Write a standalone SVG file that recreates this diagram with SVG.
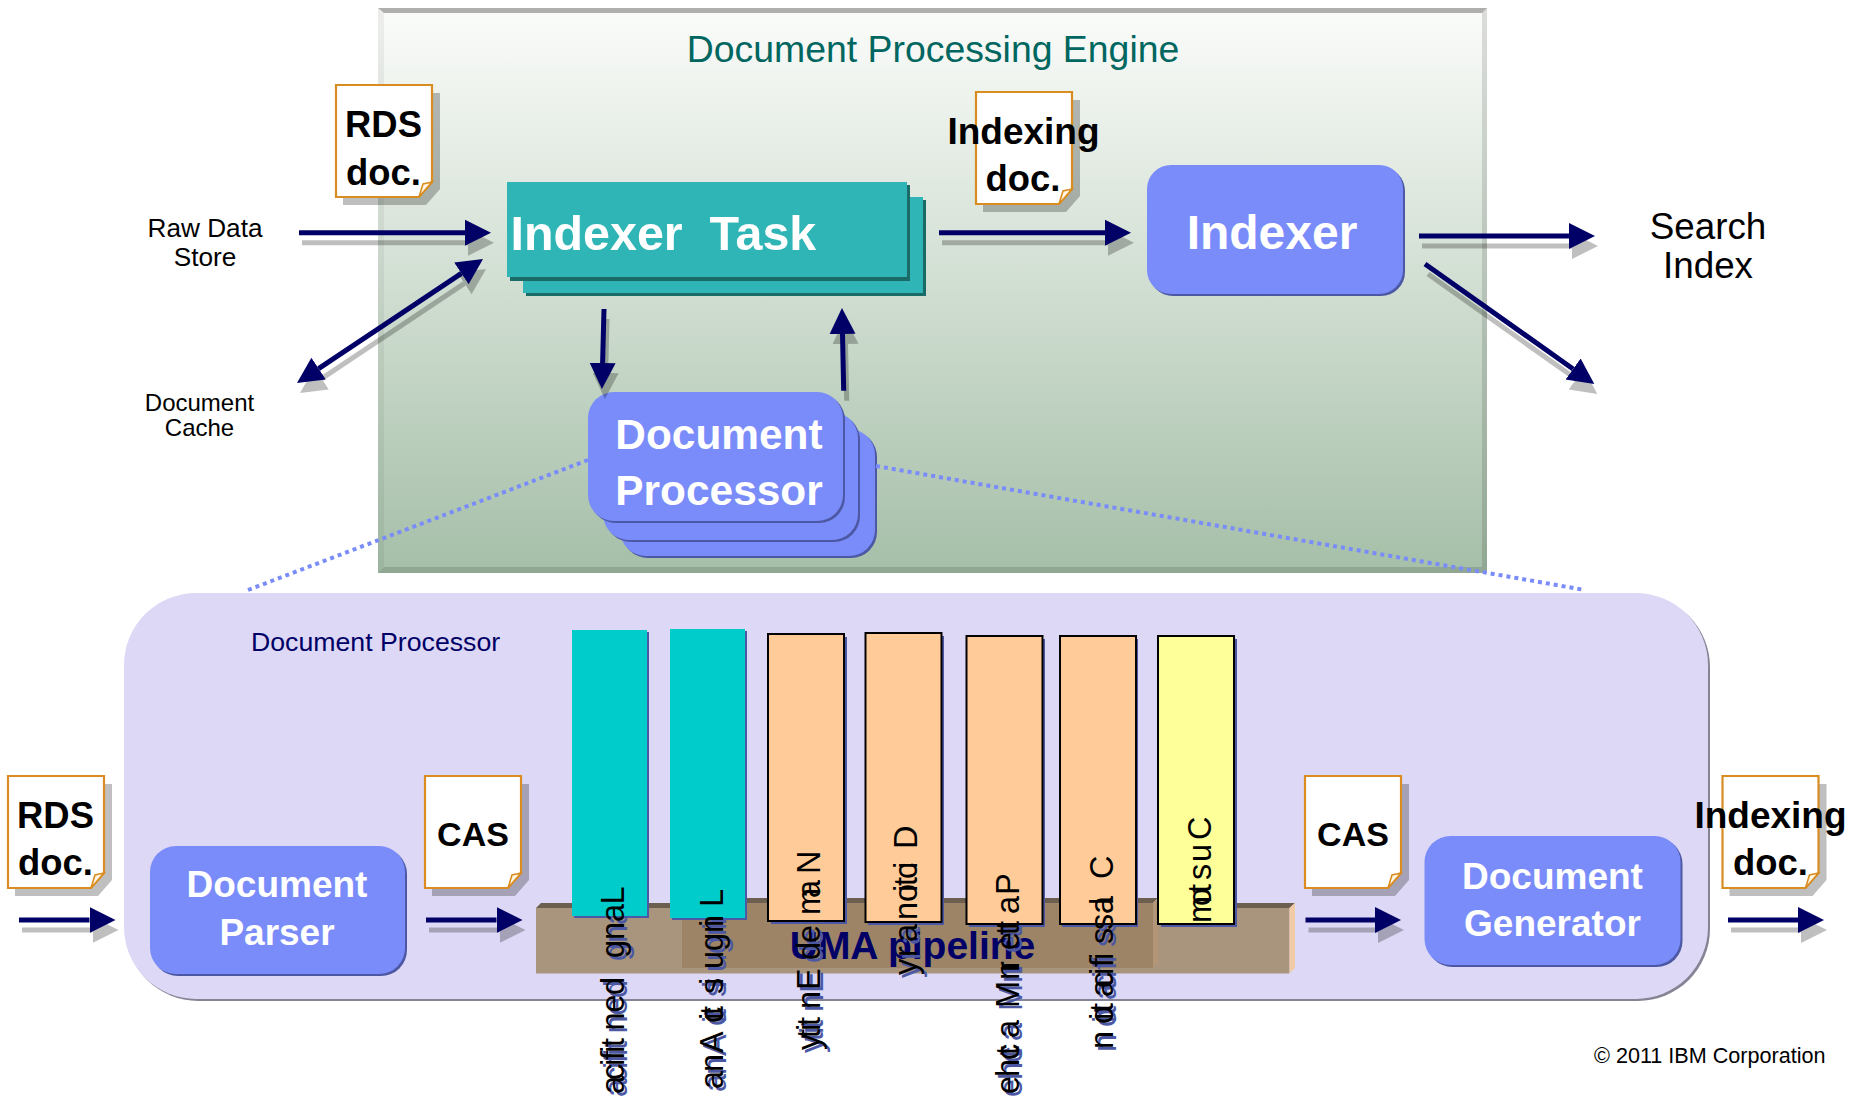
<svg xmlns="http://www.w3.org/2000/svg" xmlns:xlink="http://www.w3.org/1999/xlink" width="1858" height="1100" viewBox="0 0 1858 1100">
<style>
text{font-family:"Liberation Sans",Arial,sans-serif}
.b{font-weight:bold}
.m{text-anchor:middle}
.w{fill:#fff}
.blue{fill:#7a8cfa}
.blues{fill:#4c58a4}
.teal{fill:#2fb5b5}
.teals{fill:#1a6a68}
.lbl{font-size:36.4px;font-weight:bold;text-anchor:middle;fill:#000}
.pl{font-size:37px;font-weight:bold;text-anchor:middle;fill:#fff}
.rot{font-size:32.5px}
.bs{fill:#4c58a4}
.navy{stroke:#000066;stroke-width:5;fill:none}
.gray{stroke:#000;stroke-opacity:.25;stroke-width:5;fill:none}
.dot{stroke:#7a8cfa;stroke-width:4;stroke-dasharray:4 4;fill:none}
.peach{fill:#ffcc99;stroke:#000;stroke-width:2}
.yel{fill:#ffff99;stroke:#000;stroke-width:2}
.tl{fill:#00cccc}
</style>
<defs>
<linearGradient id="pg" x1="0" y1="0" x2="0" y2="1"><stop offset="0" stop-color="#fbfcfa"/><stop offset="1" stop-color="#a5bfa8"/></linearGradient>
<marker id="hn" markerUnits="userSpaceOnUse" markerWidth="28" markerHeight="28" refX="0" refY="14" orient="auto-start-reverse"><path d="M0,1 L26,14 L0,27 Z" fill="#000066"/></marker>
<marker id="hg" markerUnits="userSpaceOnUse" markerWidth="28" markerHeight="28" refX="0" refY="14" orient="auto-start-reverse"><path d="M0,1 L26,14 L0,27 Z" fill="#000" fill-opacity=".25"/></marker>
<g id="note">
<path d="M7,8 H104 V104 L90,120 H7 Z" fill="#000" fill-opacity=".25"/>
<path d="M0,0 H96 V97 L83,112 H0 Z" fill="#fff" stroke="#d98c20" stroke-width="2.2"/>
<path d="M96,97 L87,99 L83,112 Z" fill="#fff6e4" stroke="#d98c20" stroke-width="1.6"/>
</g>
</defs>
<rect width="1858" height="1100" fill="#fff"/>
<g id="engine">
<rect x="378" y="8" width="1109" height="565" fill="url(#pg)"/>
<path d="M378,8 H1487 L1482,13 H384 Z" fill="#000" fill-opacity=".3"/>
<path d="M378,8 L384,13 V567 L378,573 Z" fill="#000" fill-opacity=".05"/>
<path d="M1487,8 L1482,13 V567 L1487,573 Z" fill="#000" fill-opacity=".12"/>
<path d="M378,573 L384,567 H1482 L1487,573 Z" fill="#000" fill-opacity=".12"/>
<text x="933" y="62" class="m" font-size="37.4" fill="#006660">Document Processing Engine</text>
</g>
<g id="rds-doc-top"><use xlink:href="#note" href="#note" x="336" y="85"/><text x="383.5" y="137" class="lbl">RDS</text><text x="383.5" y="185" class="lbl">doc.</text></g>
<g id="indexer-task">
<rect x="526" y="200" width="400" height="96" class="teals"/><rect x="523" y="197" width="400" height="96" class="teal"/>
<rect x="510" y="185" width="400" height="96" class="teals"/><rect x="507" y="182" width="400" height="95" class="teal"/>
<text x="510.5" y="250" font-size="48.4" class="b w" xml:space="preserve">Indexer  Task</text>
</g>
<g id="indexing-doc-top"><use xlink:href="#note" href="#note" x="976" y="92"/><text x="1023.5" y="144" class="lbl" style="font-size:37px">Indexing</text><text x="1023" y="191" class="lbl">doc.</text></g>
<g id="indexer">
<rect x="1149" y="167" width="256" height="129" rx="24" class="blues"/><rect x="1147" y="165" width="256" height="129" rx="24" class="blue"/>
<text x="1272" y="249" font-size="48" class="b w m">Indexer</text>
</g>
<g id="raw-data"><text x="205" y="237" font-size="26.2" class="m">Raw Data</text><text x="205" y="266" font-size="26.2" class="m">Store</text></g>
<g id="doc-cache"><text x="199.5" y="411" font-size="24" class="m">Document</text><text x="199.5" y="436" font-size="24" class="m">Cache</text></g>
<g id="search-index"><text x="1708" y="239" font-size="36.8" class="m">Search</text><text x="1708" y="278" font-size="36.8" class="m">Index</text></g>
<g id="document-processor-stack">
<rect x="622" y="431" width="255" height="127" rx="26" class="blues"/><rect x="620" y="429" width="255" height="127" rx="26" class="blue"/>
<rect x="605" y="414" width="255" height="128" rx="26" class="blues"/><rect x="603" y="412" width="255" height="128" rx="26" class="blue"/>
<rect x="590" y="394" width="255" height="129" rx="26" class="blues"/><rect x="588" y="392" width="255" height="129" rx="26" class="blue"/>
<text x="719" y="449" font-size="42.4" class="b w m">Document</text><text x="719" y="505" font-size="42.4" class="b w m">Processor</text>
</g>
<g id="document-processor-panel">
<rect x="126" y="595" width="1584" height="406" rx="72" fill="#858494"/>
<rect x="124" y="593" width="1584" height="406" rx="72" fill="#dcd8f5"/>
<text x="251" y="651" font-size="26.7" fill="#000066">Document Processor</text>
</g>
<g id="uima-pipeline">
<path d="M536,908 L541,903 H1295 L1289.5,908 Z" fill="#6d5f50"/>
<rect x="536" y="908" width="753.5" height="65.5" fill="#a9957e"/>
<path d="M1289.5,908 L1295,903 V968 L1289.5,973.5 Z" fill="#f0cba6"/>
<path d="M682,903 L687,898 H1158 L1153,903 Z" fill="#6d5f50"/>
<rect x="682" y="903" width="471" height="65" fill="#9e8467"/>
<path d="M1153,903 L1158,898 V963 L1153,968 Z" fill="#b39678"/>
<text x="912.5" y="959" font-size="39" class="b m" fill="#000066">UMA pipeline</text>
</g>
<g id="annotator-label-shadows" class="bs rot">
<use xlink:href="#t1" href="#t1" x="3" y="3"/><use xlink:href="#t2" href="#t2" x="3" y="3"/><use xlink:href="#t3" href="#t3" x="3" y="3"/><use xlink:href="#t4" href="#t4" x="3" y="3"/><use xlink:href="#t5" href="#t5" x="3" y="3"/><use xlink:href="#t6" href="#t6" x="3" y="3"/><use xlink:href="#t7" href="#t7" x="3" y="3"/>
</g>
<g id="annotators">
<g id="a1"><rect x="574" y="632" width="75" height="286" class="bs"/><rect x="572" y="630" width="75" height="286" class="tl"/></g>
<g id="a2"><rect x="672" y="631" width="75" height="289" class="bs"/><rect x="670" y="629" width="75" height="289" class="tl"/></g>
<g id="a3"><rect x="771" y="637" width="76" height="287" class="bs"/><rect x="768" y="634" width="76" height="287" class="peach"/></g>
<g id="a4"><rect x="868" y="636" width="76" height="289" class="bs"/><rect x="865.5" y="633" width="76" height="289" class="peach"/></g>
<g id="a5"><rect x="969" y="639" width="76" height="288" class="bs"/><rect x="966.5" y="636" width="76" height="288" class="peach"/></g>
<g id="a6"><rect x="1062" y="639" width="76" height="288" class="bs"/><rect x="1060" y="636" width="76" height="288" class="peach"/></g>
<g id="a7"><rect x="1161" y="639" width="76" height="288" class="bs"/><rect x="1158" y="636" width="76" height="288" class="yel"/></g>
</g>
<g id="annotator-labels" class="rot" fill="#000">
<text id="t1" transform="rotate(-90)" y="624" x="-904.4 -922 -940 -958 -970 -995 -1012.6 -1030.4 -1047 -1053 -1060 -1066 -1080 -1094">Lang dentifica</text>
<text id="t2" transform="rotate(-90)" y="723" x="-907 -927 -933 -951 -969 -985 -994 -1015 -1020 -1023 -1030 -1053 -1072 -1089">Linguistic Ana</text>
<text id="t3" transform="rotate(-90)" y="820" x="-874 -898 -915 -943 -960 -965 -990 -1009 -1026 -1031 -1038 -1050">Named Entity</text>
<text id="t4" transform="rotate(-90)" y="917" x="-849 -869 -879 -886 -892 -902 -920 -942 -957 -975">Dictionary</text>
<text id="t5" transform="rotate(-90)" y="1019" x="-895 -914 -930 -935 -950 -972 -980 -982 -1008 -1038 -1055 -1060 -1077 -1094">Pattern Matche</text>
<text id="t6" transform="rotate(-90)" y="1113" x="-879 -905 -914 -930 -944 -960 -967 -975 -988 -997 -1012 -1020 -1024 -1049">Classification</text>
<text id="t7" transform="rotate(-90)" y="1211" x="-840 -862 -880 -893 -906 -923">Custom</text>
</g>
<g id="document-parser">
<rect x="152" y="848" width="255" height="128" rx="26" class="blues"/><rect x="150" y="846" width="255" height="128" rx="26" class="blue"/>
<text x="277" y="897" class="pl">Document</text><text x="277" y="945" class="pl">Parser</text>
</g>
<g id="document-generator">
<rect x="1426.5" y="838" width="256" height="129" rx="26" class="blues"/><rect x="1424.5" y="836" width="256" height="129" rx="26" class="blue"/>
<text x="1552.5" y="889" class="pl">Document</text><text x="1552.5" y="936" class="pl">Generator</text>
</g>
<g id="rds-doc-bottom"><use xlink:href="#note" href="#note" x="8" y="776"/><text x="55.5" y="828" class="lbl">RDS</text><text x="55.5" y="875" class="lbl">doc.</text></g>
<g id="cas-1"><use xlink:href="#note" href="#note" x="425" y="776"/><text x="473" y="846" class="lbl" style="font-size:34px">CAS</text></g>
<g id="cas-2"><use xlink:href="#note" href="#note" x="1305" y="776"/><text x="1353" y="846" class="lbl" style="font-size:34px">CAS</text></g>
<g id="indexing-doc-bottom"><use xlink:href="#note" href="#note" x="1722.5" y="776"/><text x="1770.5" y="828" class="lbl" style="font-size:37px">Indexing</text><text x="1770.5" y="875" class="lbl">doc.</text></g>
<g id="copyright"><text x="1594" y="1063" font-size="21.6">© 2011 IBM Corporation</text></g>
<g id="connectors">
<line class="dot" x1="588" y1="460" x2="248" y2="590"/>
<line class="dot" x1="876" y1="466" x2="1585" y2="590"/>
<g transform="translate(3,10)">
<line class="gray" marker-end="url(#hg)" x1="299" y1="232.7" x2="465" y2="232.7"/>
<line class="gray" marker-start="url(#hg)" marker-end="url(#hg)" x1="318.6" y1="368.6" x2="461.4" y2="273.4"/>
<line class="gray" marker-end="url(#hg)" x1="939" y1="232.7" x2="1105" y2="232.7"/>
<line class="gray" marker-end="url(#hg)" x1="1419" y1="236" x2="1569" y2="236"/>
<line class="gray" marker-end="url(#hg)" x1="1425" y1="264" x2="1573.1" y2="369"/>
<line class="gray" marker-end="url(#hg)" x1="604" y1="309" x2="602.6" y2="363"/>
<line class="gray" marker-end="url(#hg)" x1="843.7" y1="390.7" x2="842.5" y2="334"/>
<line class="gray" marker-end="url(#hg)" x1="19" y1="920" x2="89.5" y2="920"/>
<line class="gray" marker-end="url(#hg)" x1="426" y1="920" x2="496.5" y2="920"/>
<line class="gray" marker-end="url(#hg)" x1="1305.5" y1="920" x2="1375" y2="920"/>
<line class="gray" marker-end="url(#hg)" x1="1728" y1="920" x2="1798" y2="920"/>
</g>
<line class="navy" marker-end="url(#hn)" x1="299" y1="232.7" x2="465" y2="232.7"/>
<line class="navy" marker-start="url(#hn)" marker-end="url(#hn)" x1="318.6" y1="368.6" x2="461.4" y2="273.4"/>
<line class="navy" marker-end="url(#hn)" x1="939" y1="232.7" x2="1105" y2="232.7"/>
<line class="navy" marker-end="url(#hn)" x1="1419" y1="236" x2="1569" y2="236"/>
<line class="navy" marker-end="url(#hn)" x1="1425" y1="264" x2="1573.1" y2="369"/>
<line class="navy" marker-end="url(#hn)" x1="604" y1="309" x2="602.6" y2="363"/>
<line class="navy" marker-end="url(#hn)" x1="843.7" y1="390.7" x2="842.5" y2="334"/>
<line class="navy" marker-end="url(#hn)" x1="19" y1="920" x2="89.5" y2="920"/>
<line class="navy" marker-end="url(#hn)" x1="426" y1="920" x2="496.5" y2="920"/>
<line class="navy" marker-end="url(#hn)" x1="1305.5" y1="920" x2="1375" y2="920"/>
<line class="navy" marker-end="url(#hn)" x1="1728" y1="920" x2="1798" y2="920"/>
</g>
</svg>
